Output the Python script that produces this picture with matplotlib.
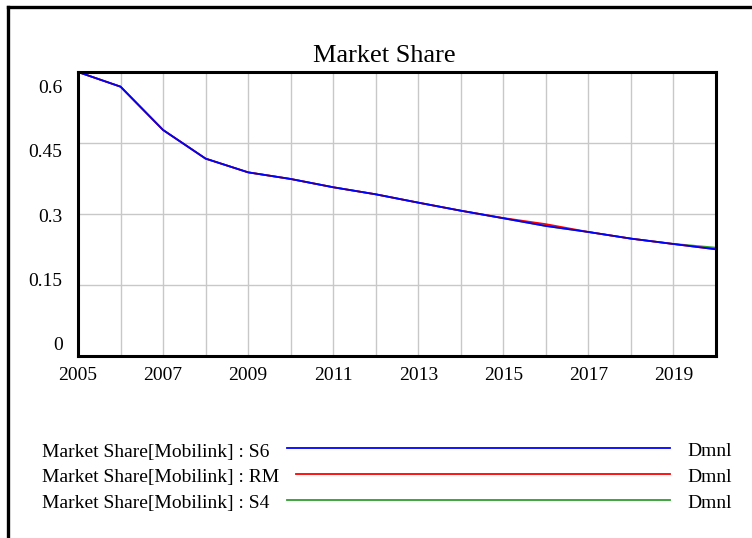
import matplotlib.pyplot as plt
from matplotlib.lines import Line2D
from matplotlib.transforms import blended_transform_factory

plt.rcParams['font.family'] = ['Liberation Serif', 'DejaVu Serif']

# data
years = list(range(2005, 2021))
s6 = [0.600, 0.569, 0.4775, 0.417, 0.388, 0.374, 0.3565, 0.3416,
      0.324, 0.307, 0.291, 0.2747, 0.262, 0.248, 0.2366, 0.2254]
rm = [0.600, 0.569, 0.4775, 0.417, 0.388, 0.374, 0.3565, 0.3416,
      0.324, 0.307, 0.2915, 0.2785, 0.262, 0.248, 0.2366, 0.2254]
s4 = [0.600, 0.569, 0.4775, 0.417, 0.388, 0.374, 0.3565, 0.3416,
      0.324, 0.307, 0.291, 0.2747, 0.262, 0.248, 0.2368, 0.2288]
names = ['Market Share[Mobilink] : S6', 'Market Share[Mobilink] : RM',
         'Market Share[Mobilink] : S4']
colors = ['#0000ff', '#ff0000', '#2e9e2e']
units = 'Dmnl'
yticks = [0, 0.15, 0.3, 0.45, 0.6]
xlabels = list(range(2005, 2020, 2))

W, H = 752, 538
def fx(px):
    return px / W
def fy(py):
    return 1 - py / H

fig = plt.figure(figsize=(W / 100, H / 100), dpi=100)
ax = fig.add_axes([fx(78), fy(356), fx(716) - fx(78), fy(72) - fy(356)])

# green and red first so blue sits on top
for vals, c in zip([s4, rm, s6], [colors[2], colors[1], colors[0]]):
    ax.plot(years, vals, color=c, lw=1.3, solid_joinstyle='round')

ax.set_xlim(2005, 2020)
ax.set_ylim(0, 0.6)
ax.set_xticks(years)
ax.set_yticks(yticks)
ax.grid(True, color='#c8c8c8', lw=1.0)
ax.set_axisbelow(True)
ax.tick_params(length=0, labelbottom=False, labelleft=False)
for sp in ax.spines.values():
    sp.set_linewidth(2.2)
    sp.set_color('black')

# x labels
tr = blended_transform_factory(ax.transData, fig.transFigure)
for yr in xlabels:
    ax.text(yr, fy(379.5), str(yr), transform=tr, ha='center', va='baseline',
            fontsize=14, clip_on=False)

# y labels (Vensim spaces them a little differently from the grid)
for k, v in enumerate(yticks):
    fig.text(fx(62.5), fy(350 - k * 64.2), f'{v:g}', ha='right', va='baseline',
             fontsize=14)

fig.text(fx(384), fy(61.5), 'Market Share', ha='center', va='baseline', fontsize=19)

# legend block
line_start = [287, 296, 287]
for i, (nm, c) in enumerate(zip(names, colors)):
    base = 456.5 + i * 25.8
    fig.text(fx(41.5), fy(base), nm, ha='left', va='baseline', fontsize=14)
    fig.add_artist(Line2D([fx(line_start[i]), fx(670)], [fy(base - 8.5)] * 2,
                          color=c, lw=1.3, transform=fig.transFigure))
    fig.text(fx(687), fy(base), units, ha='left', va='baseline', fontsize=14)

# outer frame, only top and left are visible
fig.add_artist(Line2D([fx(8), fx(W + 5)], [fy(7)] * 2, color='black', lw=2.4,
                      transform=fig.transFigure, solid_capstyle='projecting'))
fig.add_artist(Line2D([fx(8), fx(8)], [fy(7), fy(H + 5)], color='black', lw=2.4,
                      transform=fig.transFigure, solid_capstyle='projecting'))

fig.savefig('out.png', dpi=100)
